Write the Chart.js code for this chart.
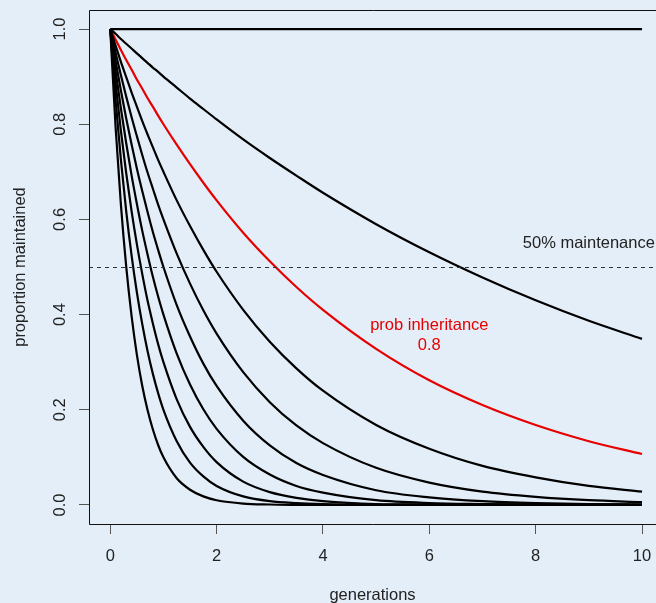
<!DOCTYPE html>
<html>
<head>
<meta charset="utf-8">
<script src="https://cdn.jsdelivr.net/npm/chart.js@4.4.1/dist/chart.umd.min.js"></script>
<style>
  html, body { margin: 0; padding: 0; background: #e4eef8; }
  #wrap { width: 656px; height: 603px; }
</style>
</head>
<body>
<div id="wrap"><canvas id="chartGenerations" width="656" height="603"></canvas></div>
<script>
'use strict';

var gens = [0, 0.1, 0.2, 0.3, 0.4, 0.5, 0.6, 0.7, 0.8, 0.9, 1, 1.25, 1.5, 1.75, 2, 2.5, 3, 3.5, 4, 5, 6, 7, 8, 9, 10];

// proportion maintained, one array per inheritance probability
var prop10 = [1, 1, 1, 1, 1, 1, 1, 1, 1, 1, 1, 1, 1, 1, 1, 1, 1, 1, 1, 1, 1, 1, 1, 1, 1];
var prop09 = [1, 0.990, 0.979, 0.969, 0.959, 0.949, 0.939, 0.929, 0.919, 0.910, 0.900, 0.877, 0.854, 0.832, 0.810, 0.768, 0.729, 0.692, 0.656, 0.590, 0.531, 0.478, 0.430, 0.387, 0.349];
var prop08 = [1, 0.978, 0.956, 0.935, 0.915, 0.894, 0.875, 0.855, 0.837, 0.818, 0.800, 0.757, 0.716, 0.677, 0.640, 0.572, 0.512, 0.458, 0.410, 0.328, 0.262, 0.210, 0.168, 0.134, 0.107];
var prop07 = [1, 0.965, 0.931, 0.899, 0.867, 0.837, 0.807, 0.779, 0.752, 0.725, 0.700, 0.640, 0.586, 0.536, 0.490, 0.410, 0.343, 0.287, 0.240, 0.168, 0.118, 0.082, 0.058, 0.040, 0.028];
var prop06 = [1, 0.950, 0.903, 0.858, 0.815, 0.775, 0.736, 0.699, 0.665, 0.631, 0.600, 0.528, 0.465, 0.409, 0.360, 0.279, 0.216, 0.167, 0.130, 0.078, 0.047, 0.028, 0.017, 0.010, 0.006];
var prop05 = [1, 0.933, 0.871, 0.812, 0.758, 0.707, 0.660, 0.616, 0.574, 0.536, 0.500, 0.420, 0.354, 0.297, 0.250, 0.177, 0.125, 0.088, 0.063, 0.031, 0.016, 0.008, 0.004, 0.002, 0.001];
var prop04 = [1, 0.913, 0.833, 0.760, 0.693, 0.633, 0.577, 0.527, 0.480, 0.438, 0.400, 0.318, 0.253, 0.201, 0.160, 0.101, 0.064, 0.040, 0.026, 0.010, 0.004, 0.002, 0.001, 0.000, 0.000];
var prop03 = [1, 0.887, 0.786, 0.697, 0.618, 0.548, 0.486, 0.430, 0.382, 0.338, 0.300, 0.222, 0.164, 0.122, 0.090, 0.049, 0.027, 0.015, 0.008, 0.002, 0.001, 0.000, 0.000, 0.000, 0.000];
var prop02 = [1, 0.851, 0.725, 0.617, 0.525, 0.447, 0.381, 0.324, 0.276, 0.235, 0.200, 0.134, 0.089, 0.060, 0.040, 0.018, 0.008, 0.004, 0.002, 0.000, 0.000, 0.000, 0.000, 0.000, 0.000];
var prop01 = [1, 0.794, 0.631, 0.501, 0.398, 0.316, 0.251, 0.200, 0.159, 0.126, 0.100, 0.056, 0.032, 0.018, 0.010, 0.003, 0.001, 0.000, 0.000, 0.000, 0.000, 0.000, 0.000, 0.000, 0.000];

var xTicks = [0, 2, 4, 6, 8, 10];
var yTicks = [0, 0.2, 0.4, 0.6, 0.8, 1.0];
var refLevel = 0.5;

var bgColor = '#e4eef8';
var redColor = '#e60000';
var fontFamily = '"Liberation Sans", Arial, Helvetica, sans-serif';
var fontSize = 16.5;

function toPoints(ys){
    return ys.map(function(y, i){ return {x: gens[i], y: y}; });
}

function curve(ys, color){
    return {
        data: toPoints(ys),
        borderColor: color,
        borderWidth: 2.2,
        pointRadius: 0,
        fill: false,
        cubicInterpolationMode: 'monotone'
    };
}

// ------------------------------------------------------- //
// extras: background, box, dashed line, texts, y labels
// ------------------------------------------------------ //
var extras = {
    id: 'extras',
    beforeDraw: function(chart){
        var ctx = chart.ctx;
        ctx.save();
        ctx.fillStyle = bgColor;
        ctx.fillRect(0, 0, chart.width, chart.height);
        ctx.restore();
    },
    afterDatasetsDraw: function(chart){
        var ctx = chart.ctx;
        var a = chart.chartArea;
        var xs = chart.scales.x, ys = chart.scales.y;

        ctx.save();
        // dashed reference line
        var yRef = Math.round(ys.getPixelForValue(refLevel)) + 0.5;
        ctx.strokeStyle = '#333';
        ctx.lineWidth = 1;
        ctx.setLineDash([4, 4]);
        ctx.beginPath();
        ctx.moveTo(a.left, yRef);
        ctx.lineTo(chart.width, yRef);
        ctx.stroke();
        ctx.setLineDash([]);

        // box
        ctx.strokeStyle = '#111';
        ctx.beginPath();
        ctx.rect(Math.round(a.left) + 0.5, Math.round(a.top) + 0.5, chart.width + 20 - a.left, Math.round(a.bottom - a.top));
        ctx.stroke();

        // y tick labels, rotated like R
        ctx.fillStyle = '#222';
        ctx.font = fontSize + 'px ' + fontFamily;
        ctx.textAlign = 'center';
        ctx.textBaseline = 'middle';
        yTicks.forEach(function(v){
            ctx.save();
            ctx.translate(60, ys.getPixelForValue(v));
            ctx.rotate(-Math.PI / 2);
            ctx.fillText(v.toFixed(1), 0, 0);
            ctx.restore();
        });

        // annotations
        ctx.fillStyle = '#222';
        ctx.fillText('50% maintenance', xs.getPixelForValue(9), ys.getPixelForValue(0.55));
        ctx.fillStyle = redColor;
        ctx.fillText('prob inheritance', xs.getPixelForValue(6), ys.getPixelForValue(0.378));
        ctx.fillText('0.8', xs.getPixelForValue(6), ys.getPixelForValue(0.336));
        ctx.restore();
    }
};

var $chart = document.getElementById('chartGenerations');
var chartGen = new Chart($chart.getContext('2d'), {
    type: 'line',
    plugins: [extras],
    data: {
        datasets: [
            curve(prop10, '#000'),
            curve(prop09, '#000'),
            curve(prop07, '#000'),
            curve(prop06, '#000'),
            curve(prop05, '#000'),
            curve(prop04, '#000'),
            curve(prop03, '#000'),
            curve(prop02, '#000'),
            curve(prop01, '#000'),
            curve(prop08, redColor)
        ]
    },
    options: {
        responsive: false,
        animation: false,
        layout: { padding: { left: 0, right: 0, top: 10, bottom: 0 } },
        plugins: {
            legend: { display: false },
            tooltip: { enabled: false }
        },
        scales: {
            x: {
                type: 'linear',
                min: -0.4,
                max: 10.263,
                afterBuildTicks: function(scale){
                    scale.ticks = xTicks.map(function(v){ return {value: v}; });
                },
                afterFit: function(scale){
                    scale.height = 79;
                    scale.paddingLeft = 0;
                    scale.paddingRight = 0;
                },
                grid: { drawOnChartArea: false, drawTicks: true, tickLength: 10, color: '#555' },
                border: { display: false },
                ticks: {
                    padding: 13,
                    color: '#222',
                    font: { family: fontFamily, size: fontSize },
                    callback: function(v){ return String(v); },
                    maxRotation: 0
                },
                title: {
                    display: true,
                    text: 'generations',
                    color: '#222',
                    font: { family: fontFamily, size: fontSize },
                    padding: { top: 0, bottom: -2 }
                }
            },
            y: {
                type: 'linear',
                min: -0.04,
                max: 1.04,
                afterBuildTicks: function(scale){
                    scale.ticks = yTicks.map(function(v){ return {value: v}; });
                },
                afterFit: function(scale){
                    scale.width = 89;
                    scale.paddingTop = 0;
                    scale.paddingBottom = 0;
                },
                grid: { drawOnChartArea: false, drawTicks: true, tickLength: 10, color: '#555' },
                border: { display: false },
                ticks: { display: false },
                title: {
                    display: true,
                    text: 'proportion maintained',
                    color: '#222',
                    font: { family: fontFamily, size: fontSize },
                    padding: { top: 11, bottom: 0 }
                }
            }
        }
    }
});
</script>
</body>
</html>
